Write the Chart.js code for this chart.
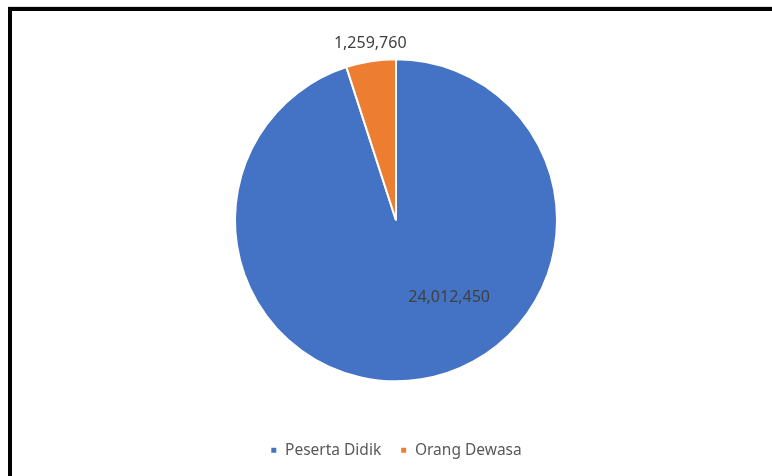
<!DOCTYPE html>
<html>
<head>
    <meta charset="UTF-8">
    <title>Peserta Didik dan Orang Dewasa</title>
    <script src="https://cdn.jsdelivr.net/npm/chart.js"></script>
    <style>
        body {
            margin: 0;
            background: #fff;
            font-family: "Noto Sans", Arial, sans-serif;
        }
        .frame {
            position: absolute;
            left: 8px;
            top: 7px;
            width: 760px;
            height: 465px;
            border-top: 4px solid #000;
            border-left: 4px solid #000;
            box-shadow: 0 -1px 0 #e0e0e0;
        }
        canvas {
            display: block;
        }
    </style>
</head>
<body>
    <div class="frame">
        <canvas id="pie" width="760" height="465"></canvas>
    </div>

    <script>
        // Data
        const labels = ['Peserta Didik', 'Orang Dewasa'];
        const values = [24012450, 1259760];
        const colors = ['#4472C4', '#ED7D31'];
        // posisi label data (kelipatan jari-jari, relatif terhadap pusat)
        const labelPos = [[0.33, 0.48], [-0.16, -1.10]];

        const fmt = new Intl.NumberFormat('en-US');

        // Plugin untuk menggambar label nilai
        const valueLabels = {
            id: 'valueLabels',
            afterDatasetsDraw(chart) {
                const ctx = chart.ctx;
                const meta = chart.getDatasetMeta(0);
                ctx.save();
                ctx.font = '16px "Noto Sans", Arial, sans-serif';
                ctx.fillStyle = '#404040';
                ctx.textAlign = 'center';
                ctx.textBaseline = 'middle';
                meta.data.forEach((arc, i) => {
                    const r = arc.outerRadius;
                    const x = arc.x + labelPos[i][0] * r;
                    const y = arc.y + labelPos[i][1] * r;
                    ctx.fillText(fmt.format(values[i]), x, y);
                });
                ctx.restore();
            }
        };

        const chart = new Chart(document.getElementById('pie'), {
            type: 'pie',
            data: {
                labels: labels,
                datasets: [{
                    data: values,
                    backgroundColor: colors,
                    borderColor: '#ffffff',
                    borderWidth: 2,
                    radius: 161
                }]
            },
            options: {
                responsive: false,
                animation: false,
                layout: {
                    padding: { left: 8, top: 6, bottom: 8 }
                },
                plugins: {
                    legend: {
                        position: 'bottom',
                        labels: {
                            boxWidth: 7,
                            boxHeight: 7,
                            padding: 19,
                            color: '#595959',
                            font: { family: '"Noto Sans", Arial, sans-serif', size: 15.5 }
                        }
                    },
                    tooltip: { enabled: false }
                }
            },
            plugins: [valueLabels]
        });
    </script>
</body>
</html>
